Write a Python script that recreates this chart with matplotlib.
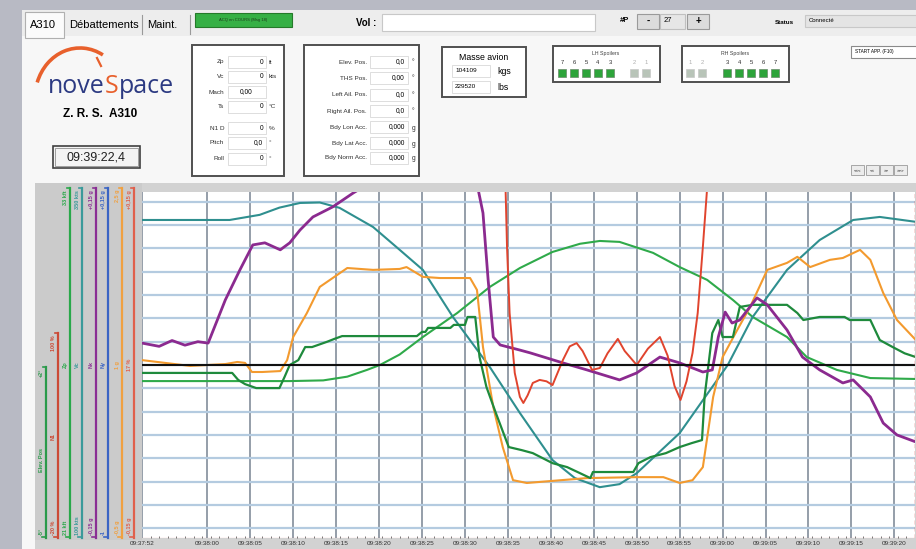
import matplotlib.pyplot as plt
from matplotlib.patches import Rectangle, Arc

# ---- recorded traces (seconds after 09:37:52.4, value in grid units) ----
teal_t = [0, 10.2, 13.7, 16.0, 18.4, 20.7, 23.0, 26.9, 30.0, 32.7, 36.2, 40.5, 44.0, 47.8, 50.4,
          53.3, 55.6, 57.6, 62.6, 68.2, 71.1, 75.1, 78.9, 82.8, 85.9, 90.1]
teal_v = [6.22, 6.22, 6.44, 6.75, 6.95, 6.97, 6.74, 5.92, 4.94, 4.08, 2.06, -0.09, -2.06, -4.08, -4.85,
          -5.24, -5.11, -4.64, -2.92, 0.0, 2.06, 4.08, 5.36, 6.22, 6.35, 6.14]

purple_t = [0, 2.0, 3.5, 5.0, 6.5, 7.7, 9.7, 11.4, 12.9, 14.3, 16.1, 17.2, 18.4, 19.9, 22.2, 24.6,
            25.6, 27.0, 37.5, 39.1, 39.7, 40.3, 40.9, 41.7, 44.0, 45.2, 49.0, 51.8, 55.6, 57.6,
            60.3, 62.6, 65.3, 66.4, 67.1, 67.9, 68.7, 69.6, 71.6, 72.8, 75.1, 76.9, 78.9, 81.6,
            82.8, 84.8, 86.3, 87.9, 90.1]
purple_v = [0.94, 0.80, 1.05, 0.85, 1.0, 0.94, 2.79, 4.08, 5.15, 5.24, 4.94, 5.24, 5.79, 6.35, 6.78, 7.38,
            7.6, 8.3, 8.3, 7.6, 6.52, 3.65, 1.2, 0.86, 0.64, 0.52, 0.09, -0.21, -0.64, -0.34,
            0.34, 0.09, -0.30, -0.21, 1.2, 2.27, 1.8, 1.93, 2.88, 2.58, 1.5, 0.34, -0.21, -0.77,
            -0.64, -1.37, -2.49, -3.0, -3.3]

orange_t = [0, 5.6, 9.7, 11.1, 12.0, 12.8, 14.0, 16.1, 16.9, 17.6, 19.2, 20.7, 22.2, 23.9, 26.9,
            30.0, 30.8, 32.7, 34.7, 38.2, 39.0, 39.7, 40.9, 42.0, 43.2, 44.8, 51.8, 57.6, 60.7,
            62.6, 64.1, 65.3, 66.5, 67.6, 69.3, 70.8, 72.8, 75.1, 76.3, 77.8, 80.1, 81.6, 83.6,
            84.8, 86.3, 87.9, 90.1]
orange_v = [0.21, -0.04, 0.04, 0.13, 0.09, -0.30, -0.30, -0.26, 0.21, 1.2, 2.23, 3.35, 3.73, 4.16, 4.08,
            4.12, 4.2, 3.78, 3.73, 3.73, 3.22, 0.77, -1.8, -3.52, -4.94, -5.06, -4.85, -4.81, -4.81,
            -5.06, -4.94, -4.38, -1.37, 0.34, 1.5, 2.49, 4.08, 4.38, 4.64, 4.2, 4.51, 4.59, 4.94,
            4.51, 3.09, 1.93, 1.07]

lgreen_t = [0, 17.2, 21.1, 23.9, 26.2, 27.7, 30.0, 32.7, 36.7, 40.5, 44.0, 47.8, 51.0, 53.3, 55.6,
            59.5, 62.6, 65.8, 68.8, 71.1, 75.1, 77.4, 80.9, 84.8, 90.1]
lgreen_v = [-0.69, -0.69, -0.66, -0.5, -0.21, 0.0, 0.45, 1.2, 2.23, 3.35, 4.16, 4.85, 5.2, 5.32, 5.28,
            4.81, 4.2, 3.65, 2.79, 2.06, 1.2, 0.34, -0.21, -0.56, -0.6]

dgreen_t = [0, 10.5, 11.2, 12.0, 13.3, 16.0, 16.6, 17.2, 18.2, 19.0, 19.8, 21.5, 22.4, 23.3, 32.0,
            32.6, 33.0, 33.3, 35.9, 36.3, 37.6, 37.9, 38.8, 39.3, 40.1, 41.2, 42.7, 44.2, 45.5,
            47.8, 49.5, 51.0, 52.2, 52.5, 57.2, 57.8, 59.2, 61.0, 62.6, 64.0, 65.2, 65.5, 66.4,
            67.1, 67.6, 68.8, 69.6, 71.1, 75.1, 76.3, 77.0, 78.9, 81.8, 82.4, 84.8, 85.9, 87.4,
            88.8, 90.1]
dgreen_v = [-0.34, -0.34, -0.64, -0.82, -0.99, -0.99, -0.51, 0.0, 0.21, 0.77, 0.77, 0.99, 1.12, 1.24, 1.24,
            1.42, 1.42, 1.59, 1.59, 1.72, 1.72, 2.06, 2.06, 0.34, -0.94, -2.06, -3.52, -3.65, -3.78,
            -4.21, -4.38, -4.64, -4.85, -4.59, -4.59, -4.21, -3.95, -3.78, -3.52, -3.35, -3.22, -1.37, 1.37,
            1.93, 1.2, 1.2, 2.49, 2.58, 2.58, 2.23, 1.93, 2.06, 2.06, 1.93, 1.93, 1.07, 0.77,
            0.5, 0.34]

red_t = [41.8, 42.3, 42.5, 42.8, 43.4, 44.0, 44.4, 44.9, 45.5, 46.3, 47.1, 47.8, 49.0, 49.8, 50.6,
         51.3, 52.4, 53.3, 54.2, 55.4, 56.2, 57.6, 58.9, 60.3, 61.2, 62.0, 62.7, 63.4, 64.1,
         64.7, 65.3, 65.8, 66.3]
red_v = [12, 8.0, 5.06, 2.23, -0.34, -1.37, -1.63, -1.3, -0.77, -0.64, -0.7, -0.86, 0.21, 0.8, 0.94,
         0.6, -0.21, -0.13, 0.5, 1.12, 0.6, 0.0, 0.7, 1.2, 0.4, -0.9, -1.5, -0.7, 0.52,
         2.23, 5.06, 7.6, 10]

time_labels = ['09:37:52', '09:38:00', '09:38:05', '09:38:10', '09:38:15', '09:38:20', '09:38:25',
               '09:38:30', '09:38:35', '09:38:40', '09:38:45', '09:38:50', '09:38:55', '09:39:00',
               '09:39:05', '09:39:10', '09:39:15', '09:39:20']

# scale strips on the left: top label, name, bottom label
scale_top = ['+2°', '100 %', '33 kft', '350 kts', '+0,15 g', '+0,15 g', '2,5 g', '+0,15 g']
scale_mid = ['Elev. Pos', 'N1', 'Zp', 'Vc', 'Nx', 'Ny', '1 g', '17 %']
scale_bot = ['-5°', '-20 %', '21 kft', '100 kts', '-0,15 g', '-1', '-0,5 g', '-0,15 g']
scale_col = ['#2a9a4a', '#cc4a36', '#2aa84a', '#3a9a9a', '#8a2f94', '#3a64c4', '#f0a040', '#e0604c']

# header fields
box1 = [('Zp', '0', 'ft'), ('Vc', '0', 'kts'), ('Mach', '0,00', ''), ('Ts', '0', '°C'),
        ('N1 D', '0', '%'), ('Pitch', '0,0', '°'), ('Roll', '0', '°')]
box2 = [('Elev. Pos.', '0,0', '°'), ('THS Pos.', '0,00', '°'), ('Left Ail. Pos.', '0,0', '°'),
        ('Right Ail. Pos.', '0,0', '°'), ('Bdy Lon Acc.', '0,000', 'g'),
        ('Bdy Lat Acc.', '0,000', 'g'), ('Bdy Norm Acc.', '0,000', 'g')]
lh_spoilers = ['7', '6', '5', '4', '3', '2', '1']
lh_on = [1, 1, 1, 1, 1, 0, 0]
rh_spoilers = ['1', '2', '3', '4', '5', '6', '7']
rh_on = [0, 0, 1, 1, 1, 1, 1]

plt.rcParams['font.family'] = ['Liberation Sans', 'DejaVu Sans']

fig = plt.figure(figsize=(9.16, 5.49), dpi=100, facecolor='#b8bac4')

# %% interface drawn in pixel coordinates
ui = fig.add_axes([0, 0, 1, 1])
ui.set_xlim(0, 916)
ui.set_ylim(549, 0)
ui.axis('off')


def rect(x, y, w, h, fc='white', ec='none', lw=0.8, z=1):
    ui.add_patch(Rectangle((x, y), w, h, fc=fc, ec=ec, lw=lw, zorder=z))


rect(22, 10, 894, 539, fc='#f7f7f7')
rect(22, 10, 894, 26, fc='#ededed')
rect(25, 12, 39, 26, fc='#fbfbfb', ec='#b0b0b0')
for xs in [142, 190]:
    ui.plot([xs, xs], [15, 34], color='#9a9a9a', lw=0.8)
ui.text(30, 25, 'A310', fontsize=8, va='center')
ui.text(69, 25, 'Débattements', fontsize=8, va='center')
ui.text(147, 25, 'Maint.', fontsize=8, va='center')
rect(195, 13, 97, 14, fc='#36b045', ec='#257a2a')
ui.text(243, 20, 'ACQ en COURS (Msg 18)', fontsize=3, ha='center', va='center', color='#1b3b1b')
ui.text(356, 23, 'Vol :', fontsize=7, weight='bold', va='center')
rect(382, 14, 213, 17, fc='white', ec='#c8c8c8')
ui.text(620, 21, '#P', fontsize=5.5, weight='bold', va='center')
rect(637, 14, 22, 15, fc='#dcdcdc', ec='#9a9a9a')
ui.text(648, 21, '-', fontsize=7, weight='bold', ha='center', va='center')
rect(660, 14, 25, 15, fc='#e6e6e6', ec='#c0c0c0')
ui.text(664, 21, '27', fontsize=5.5, va='center')
rect(687, 14, 22, 15, fc='#dcdcdc', ec='#9a9a9a')
ui.text(698, 21, '+', fontsize=7, weight='bold', ha='center', va='center')
ui.text(775, 22, 'Status', fontsize=4.5, weight='bold', va='center')
rect(805, 15, 115, 12, fc='#e4e4e4', ec='#c8c8c8')
ui.text(809, 21, 'Connecté', fontsize=4.3, va='center')

# logo
ui.add_patch(Arc((80, 98), 90, 100, theta1=200, theta2=298, color='#e8602c', lw=2.6, zorder=2))
ui.plot([97, 101], [58, 66], color='#e8602c', lw=1.6)
t1 = ui.text(48, 93, 'nove', fontsize=18, color='#2c3a82', family='Open Sans', va='baseline')
fig.canvas.draw()
inv = ui.transData.inverted()
x_end = inv.transform(t1.get_window_extent().corners()[-1])[0]
t2 = ui.text(x_end, 93, 'S', fontsize=18, color='#e8602c', family='Open Sans', va='baseline')
fig.canvas.draw()
x_end = inv.transform(t2.get_window_extent().corners()[-1])[0]
ui.text(x_end, 93, 'pace', fontsize=18, color='#2c3a82', family='Open Sans', va='baseline')
ui.text(100, 114, 'Z. R. S.  A310', fontsize=8.5, weight='bold', ha='center', va='center')
rect(53, 146, 87, 22, fc='#f4f4f4', ec='#404040', lw=1.2)
rect(55, 148, 83, 18, fc='none', ec='#909090', lw=0.6)
ui.text(96, 157, '09:39:22,4', fontsize=9, ha='center', va='center', color='#202020')

# parameter boxes
rect(192, 45, 92, 131, fc='white', ec='#505050', lw=1.4)
for i, (lab, val, unit) in enumerate(box1):
    y = [62, 77, 92, 107, 128, 143, 159][i]
    ui.text(224, y, lab, fontsize=4.6, ha='right', va='center', color='#303030')
    rect(228, y - 6, 38, 12, fc='white', ec='#d8d8d8', lw=0.6)
    ui.text(253 if unit == '' else 263, y, val, fontsize=4.8, ha='right', va='center')
    ui.text(269, y, unit, fontsize=4.6, va='center', color='#303030')

rect(304, 45, 115, 131, fc='white', ec='#505050', lw=1.4)
for i, (lab, val, unit) in enumerate(box2):
    y = [62, 78, 95, 111, 127, 143, 158][i]
    ui.text(367, y, lab, fontsize=4.6, ha='right', va='center', color='#303030')
    rect(370, y - 6, 38, 12, fc='white', ec='#d8d8d8', lw=0.6)
    ui.text(405, y, val, fontsize=4.8, ha='right', va='center')
    ui.text(412, y + 1, unit, fontsize=4.8, va='center', color='#303030')

rect(442, 47, 84, 50, fc='white', ec='#505050', lw=1.4)
ui.text(484, 57, 'Masse avion', fontsize=6.3, ha='center', va='center')
rect(452, 65, 38, 12, fc='white', ec='#d8d8d8', lw=0.6)
ui.text(455, 71, '104109', fontsize=4.6, va='center')
ui.text(497, 72, 'kgs', fontsize=6.3, va='center')
rect(452, 81, 38, 12, fc='white', ec='#d8d8d8', lw=0.6)
ui.text(455, 87, '229520', fontsize=4.6, va='center')
ui.text(497, 87, 'lbs', fontsize=6.3, va='center')

for bx, title, labs, on, xs in [(553, 'LH Spoilers', lh_spoilers, lh_on, [562, 574, 586, 598, 610, 634, 646]),
                                (682, 'RH Spoilers', rh_spoilers, rh_on, [690, 702, 727, 739, 751, 763, 775])]:
    rect(bx, 46, 107, 36, fc='white', ec='#505050', lw=1.4)
    ui.text(bx + 53, 53, title, fontsize=3.8, ha='center', va='center', color='#404040')
    for lab, o, xx in zip(labs, on, xs):
        ui.text(xx, 63, lab, fontsize=4.2, ha='center', va='center', color='#303030' if o else '#b0b0b0')
        rect(xx - 4, 69, 8, 8, fc='#2da43a' if o else '#b8c4b8', ec='#6a8a6a' if o else '#c8c8c8', lw=0.5)

rect(851, 46, 70, 12, fc='white', ec='#8a8a8a', lw=0.8)
ui.text(855, 52, 'START APP. (F10)', fontsize=3.4, va='center')
for xx, lab in zip([851, 866, 880, 894], ['<<<', '<<', '>>', '>>>']):
    rect(xx, 165, 13, 10, fc='#ececec', ec='#9a9a9a', lw=0.6)
    ui.text(xx + 6.5, 170, lab, fontsize=3.2, ha='center', va='center')

# chart frame and scale strips
rect(35, 183, 881, 366, fc='#d2d2d2')
rect(35, 183, 107, 357, fc='#cbcbcb')
xs_scale = [46, 58, 70, 82, 96, 108, 122, 134]
ytop_scale = [367, 333, 188, 188, 188, 188, 188, 188]
for i, xx in enumerate(xs_scale):
    c = scale_col[i]
    ui.plot([xx, xx], [ytop_scale[i], 538], color=c, lw=1.6, zorder=3)
    ui.plot([xx - 3, xx], [ytop_scale[i], ytop_scale[i]], color=c, lw=1.2, zorder=3)
    ui.plot([xx - 4, xx], [537, 537], color=c, lw=1.2, zorder=3)
    ui.text(xx - 2, ytop_scale[i] + 2, scale_top[i], rotation=90, fontsize=4, weight='bold',
            color=c, ha='right', va='top')
    ui.text(xx - 2, 365 if i > 1 else (460 if i == 0 else 437), scale_mid[i], rotation=90,
            fontsize=4, weight='bold', color=c, ha='right', va='center')
    ui.text(xx - 2, 535, scale_bot[i], rotation=90, fontsize=4, weight='bold',
            color=c, ha='right', va='bottom')

# %% chart
ax = fig.add_axes([142 / 916, 11 / 549, 773 / 916, 346 / 549])
ax.set_facecolor('white')
ax.set_xlim(0, 90)
ax.set_ylim(-7.42, 7.42)

t0 = 9 * 3600 + 37 * 60 + 52.4
tick_pos = []
for lab in time_labels:
    h, m, s = lab.split(':')
    tick_pos.append(max(0, int(h) * 3600 + int(m) * 60 + int(s) - t0))
ax.set_xticks(tick_pos, time_labels)
ax.set_xticks([p for p in range(1, 90)], minor=True)
ax.set_yticks(range(-7, 8))
ax.tick_params(axis='x', which='major', labelsize=4.6, length=0, pad=2.5, labelcolor='#303030')
ax.tick_params(axis='x', which='minor', length=1.5, width=0.6, color='#606060', direction='in')
ax.tick_params(axis='y', length=0, labelleft=False)
ax.grid(axis='y', color='#b4cbe0', lw=1.6)
ax.grid(axis='x', which='major', color='#8c96a2', lw=1.3)
for sp in ax.spines.values():
    sp.set_visible(False)
ax.axhline(-3, color='white', lw=1.8, zorder=1)
ax.axhline(-3, color='#c4cfdc', lw=1.2, ls=(0, (2, 3)), zorder=1)

ax.plot(lgreen_t, lgreen_v, color='#2faa4a', lw=1.5, zorder=3)
ax.plot(teal_t, teal_v, color='#2f8f8f', lw=1.5, zorder=3)
ax.plot(orange_t, orange_v, color='#f39a2e', lw=1.5, zorder=3)
ax.plot(dgreen_t, dgreen_v, color='#1e8a3c', lw=1.6, zorder=3)
ax.plot(purple_t, purple_v, color='#8b2a8f', lw=2.0, zorder=3)
ax.plot(red_t, red_v, color='#e0442e', lw=1.4, zorder=3)
ax.axhline(0, color='#111111', lw=1.5, zorder=4)
ax.axvline(90, color='#e04040', lw=1.0, ls=(0, (3, 2)), zorder=5)
ax.axhline(-7.42, color='#e06060', lw=0.8, zorder=5)

fig.savefig('out.png', dpi=100, facecolor=fig.get_facecolor())
